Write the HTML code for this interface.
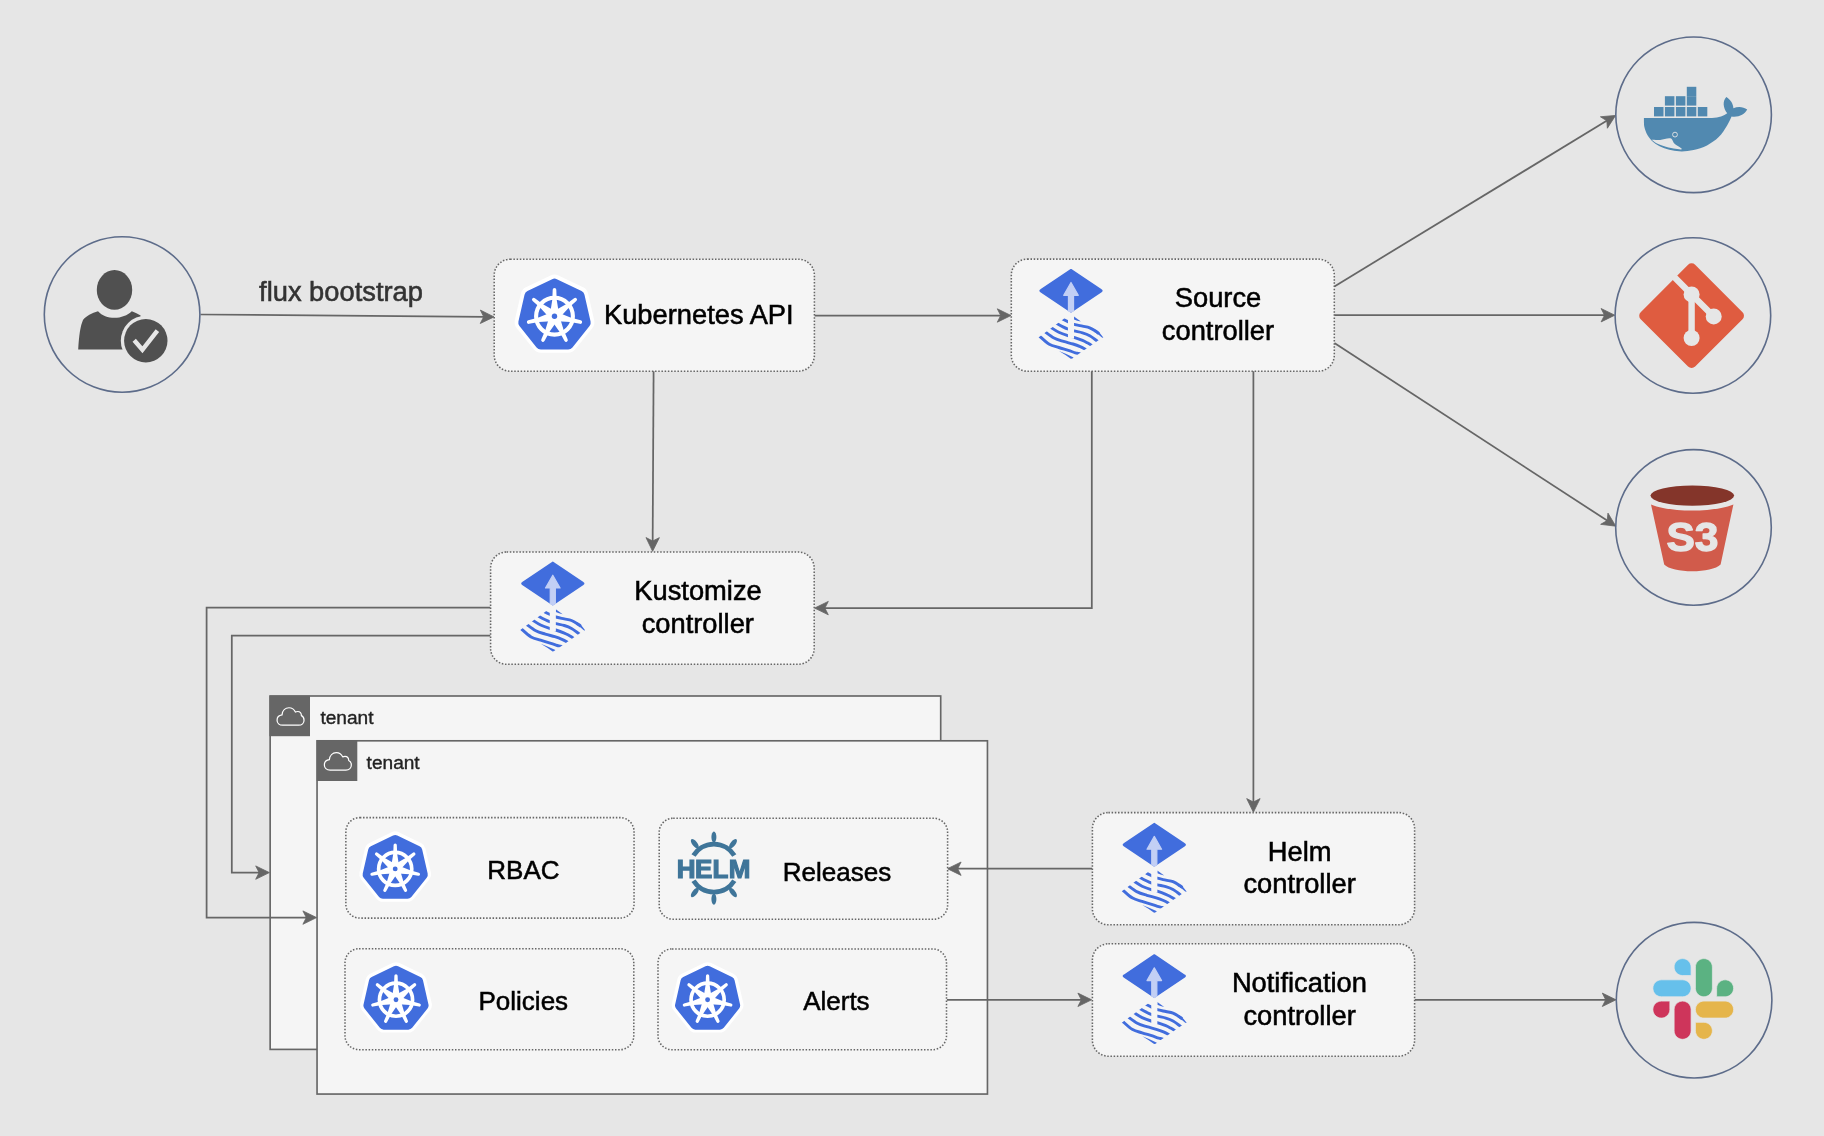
<!DOCTYPE html>
<html lang="en"><head><meta charset="utf-8"><title>Flux multi-tenancy architecture</title>
<style>html,body{margin:0;padding:0;background:#e6e6e6;}body{width:1824px;height:1136px;overflow:hidden;}svg{display:block;will-change:transform;}svg text{-webkit-font-smoothing:antialiased;}svg text{font-family:"Liberation Sans", sans-serif;}</style>
</head><body>
<svg width="1824" height="1136" viewBox="0 0 1824 1136">
<rect width="1824" height="1136" fill="#e6e6e6"/>
<defs>
<g id="k8s"><polygon points="0,-31.6 24.71,-19.7 30.81,7.03 13.71,28.47 -13.71,28.47 -30.81,7.03 -24.71,-19.7" fill="#fff" stroke="#fff" stroke-width="18.2" stroke-linejoin="round"/><polygon points="0,-31.6 24.71,-19.7 30.81,7.03 13.71,28.47 -13.71,28.47 -30.81,7.03 -24.71,-19.7" fill="#416ddd" stroke="#416ddd" stroke-width="10.8" stroke-linejoin="round" transform="translate(0,0.4)"/><g transform="translate(0,1)" fill="#fff" stroke="none"><circle r="18.4" fill="none" stroke="#fff" stroke-width="4.1"/><path transform="rotate(-90)" d="M4 -4.2 L16.5 -2.2 L26.5 -1.8 A1.8 1.8 0 0 1 26.5 1.8 L16.5 2.2 L4 4.2 Z"/><path transform="rotate(-38.57)" d="M4 -4.2 L16.5 -2.2 L26.5 -1.8 A1.8 1.8 0 0 1 26.5 1.8 L16.5 2.2 L4 4.2 Z"/><path transform="rotate(12.86)" d="M4 -4.2 L16.5 -2.2 L26.5 -1.8 A1.8 1.8 0 0 1 26.5 1.8 L16.5 2.2 L4 4.2 Z"/><path transform="rotate(64.29)" d="M4 -4.2 L16.5 -2.2 L26.5 -1.8 A1.8 1.8 0 0 1 26.5 1.8 L16.5 2.2 L4 4.2 Z"/><path transform="rotate(115.71)" d="M4 -4.2 L16.5 -2.2 L26.5 -1.8 A1.8 1.8 0 0 1 26.5 1.8 L16.5 2.2 L4 4.2 Z"/><path transform="rotate(167.14)" d="M4 -4.2 L16.5 -2.2 L26.5 -1.8 A1.8 1.8 0 0 1 26.5 1.8 L16.5 2.2 L4 4.2 Z"/><path transform="rotate(218.57)" d="M4 -4.2 L16.5 -2.2 L26.5 -1.8 A1.8 1.8 0 0 1 26.5 1.8 L16.5 2.2 L4 4.2 Z"/><circle r="7"/><circle r="2.7" fill="#416ddd"/></g></g>
<g id="flux"><path d="M0 1 L30.2 21.3 Q31.5 22.1 30.2 22.9 L0 43.2 L-30.2 22.9 Q-31.5 22.1 -30.2 21.3 Z" fill="#416ddd" stroke="#416ddd" stroke-width="1.6" stroke-linejoin="round"/><path d="M0 13.8 L7.3 26.6 L2.55 26.6 L2.55 42 L0 43.6 L-2.55 42 L-2.55 26.6 L-7.3 26.6 Z" fill="#c2cff5" stroke="#c2cff5" stroke-width="1.2" stroke-linejoin="round"/><clipPath id="fluxclip"><path d="M-36 71.2 L0 44.9 L42 44.9 L42 61.5 L0 90.5 L-3 92.6 L-36 92.6 Z"/></clipPath><g clip-path="url(#fluxclip)" fill="none" stroke="#416ddd" stroke-width="2.9" stroke-linecap="butt"><path d="M-35 63.5C-34.37 64.2 -33.42 65.7 -31.2 67.7C-28.98 69.7 -24.87 73.65 -21.7 75.5C-18.53 77.35 -15.37 77.77 -12.2 78.8C-9.03 79.83 -5.47 80.82 -2.7 81.7C0.07 82.58 2.67 83.58 4.4 84.1C6.13 84.62 6.43 84.38 7.7 84.8C8.97 85.22 11.28 86.3 12 86.6"/><path d="M-30 59.6C-29.3 60.2 -27.97 61.58 -25.8 63.2C-23.63 64.82 -20.05 67.72 -17 69.3C-13.95 70.88 -10.67 71.7 -7.5 72.7C-4.33 73.7 -0.78 74.43 2 75.3C4.78 76.17 7.22 77.07 9.2 77.9C11.18 78.73 12.43 79.45 13.9 80.3C15.37 81.15 17.32 82.55 18 83"/><path d="M-24 56C-23.27 56.52 -21.57 57.83 -19.6 59.1C-17.63 60.37 -14.93 62.28 -12.2 63.6C-9.47 64.92 -5.73 66.17 -3.2 67C-0.67 67.83 0.55 67.82 3 68.6C5.45 69.38 9.28 70.78 11.5 71.7C13.72 72.62 14.78 73.27 16.3 74.1C17.82 74.93 19.15 75.72 20.6 76.7C22.05 77.68 24.27 79.45 25 80"/><path d="M-18 52.4C-17.28 52.85 -15.45 54.1 -13.7 55.1C-11.95 56.1 -9.25 57.53 -7.5 58.4C-5.75 59.27 -4.95 59.67 -3.2 60.3C-1.45 60.93 0.55 61.57 3 62.2C5.45 62.83 8.88 63.3 11.5 64.1C14.12 64.9 16.17 65.57 18.7 67C21.23 68.43 24.65 71.1 26.7 72.7C28.75 74.3 30.28 75.95 31 76.6"/><path d="M-12 48.2C-11.25 48.63 -8.97 50.02 -7.5 50.8C-6.03 51.58 -4.95 52.1 -3.2 52.9C-1.45 53.7 0.55 54.83 3 55.6C5.45 56.37 8.88 56.92 11.5 57.5C14.12 58.08 16.32 58.15 18.7 59.1C21.08 60.05 24.25 62.22 25.8 63.2C27.35 64.18 27.63 64.7 28 65"/></g><path d="M24.6 60.9 Q29.6 64.4 32.3 68.8 Q31.6 69.4 30.6 68.6 Q28 65.6 23.2 63.4 Z" fill="#416ddd"/><path d="M3 47.9 L9.9 52.9 Q6 52 3 50.7 Z" fill="#416ddd"/><path d="M-12 82.3 Q-4 85.4 2.6 88.7 Q1.4 90.2 -0.2 90.1 Q-5 86.4 -12 82.3 Z" fill="#416ddd"/><rect x="-3.05" y="44.6" width="6.1" height="25.4" fill="#f5f5f5"/></g>
<g id="cloud"><rect x="-20.2" y="-20.2" width="40.6" height="40.6" fill="#666"/><path transform="translate(0.9,0.6) scale(0.94)" d="M-8.2 9.4 C-12 9.4 -14.3 7 -14.3 4 C-14.3 1 -12 -1.2 -9 -1.6 C-8.6 -6 -5.6 -9.2 -1.6 -9.2 C1.6 -9.2 4 -7.4 5.2 -4.6 C6 -5 6.8 -5.2 7.6 -5.2 C10 -5.2 11.6 -3.4 11.6 -0.8 C13.4 0 14.4 1.8 14.4 4 C14.4 7 12.2 9.4 8.6 9.4 Z" fill="none" stroke="#fff" stroke-width="1.3" stroke-linejoin="round"/></g>
</defs>
<g id="edges">
<path d="M200.5 314.5 L485 316.83" fill="none" stroke="#666666" stroke-width="1.75" stroke-linejoin="miter"/><path d="M494 316.9 L480.36 310.09 L483.7 316.82 L480.25 323.49 Z" fill="#666666" stroke="#666666" stroke-width="0.8" stroke-linejoin="miter"/>
<path d="M814.5 315.5 L1002 315.5" fill="none" stroke="#666666" stroke-width="1.75" stroke-linejoin="miter"/><path d="M1011 315.5 L997.3 308.8 L1000.7 315.5 L997.3 322.2 Z" fill="#666666" stroke="#666666" stroke-width="0.8" stroke-linejoin="miter"/>
<path d="M653.6 371 L652.65 542.3" fill="none" stroke="#666666" stroke-width="1.75" stroke-linejoin="miter"/><path d="M652.6 551.3 L659.38 537.64 L652.66 541 L645.98 537.56 Z" fill="#666666" stroke="#666666" stroke-width="0.8" stroke-linejoin="miter"/>
<path d="M1091.8 371 L1091.8 608.1 L823.6 608.1" fill="none" stroke="#666666" stroke-width="1.75" stroke-linejoin="miter"/><path d="M814.6 608.1 L828.3 614.8 L824.9 608.1 L828.3 601.4 Z" fill="#666666" stroke="#666666" stroke-width="0.8" stroke-linejoin="miter"/>
<path d="M1253.4 371 L1253.4 803.3" fill="none" stroke="#666666" stroke-width="1.75" stroke-linejoin="miter"/><path d="M1253.4 812.3 L1260.1 798.6 L1253.4 802 L1246.7 798.6 Z" fill="#666666" stroke="#666666" stroke-width="0.8" stroke-linejoin="miter"/>
<path d="M1334.4 286.4 L1607.91 120.08" fill="none" stroke="#666666" stroke-width="1.75" stroke-linejoin="miter"/><path d="M1615.6 115.4 L1600.41 116.79 L1606.8 120.75 L1607.38 128.24 Z" fill="#666666" stroke="#666666" stroke-width="0.8" stroke-linejoin="miter"/>
<path d="M1334.4 315.2 L1605.8 315.2" fill="none" stroke="#666666" stroke-width="1.75" stroke-linejoin="miter"/><path d="M1614.8 315.2 L1601.1 308.5 L1604.5 315.2 L1601.1 321.9 Z" fill="#666666" stroke="#666666" stroke-width="0.8" stroke-linejoin="miter"/>
<path d="M1334.4 343 L1608.26 521.29" fill="none" stroke="#666666" stroke-width="1.75" stroke-linejoin="miter"/><path d="M1615.8 526.2 L1607.97 513.11 L1607.17 520.58 L1600.66 524.34 Z" fill="#666666" stroke="#666666" stroke-width="0.8" stroke-linejoin="miter"/>
<path d="M490.4 635.5 L231.8 635.5 L231.8 872.6 L260.4 872.6" fill="none" stroke="#666666" stroke-width="1.75" stroke-linejoin="miter"/><path d="M269.4 872.6 L255.7 865.9 L259.1 872.6 L255.7 879.3 Z" fill="#666666" stroke="#666666" stroke-width="0.8" stroke-linejoin="miter"/>
</g>
<g id="tenants">
<rect x="270.15" y="696" width="670.55" height="353.4" fill="#f5f5f5" stroke="#666666" stroke-width="1.65"/>
<use href="#cloud" x="289.6" y="715.8"/>
<text x="320.4" y="724.2" font-size="19.1" text-anchor="start" fill="#222" font-weight="normal" stroke="#222" stroke-width="0.38">tenant</text>
<rect x="317.05" y="740.8" width="670.4" height="353.25" fill="#f5f5f5" stroke="#666666" stroke-width="1.65"/>
<use href="#cloud" x="336.9" y="760.6"/>
<text x="366.6" y="769.1" font-size="19.1" text-anchor="start" fill="#222" font-weight="normal" stroke="#222" stroke-width="0.38">tenant</text>
</g>
<path d="M490.4 607.7 L206.6 607.7 L206.6 917.6 L307.6 917.6" fill="none" stroke="#666666" stroke-width="1.75" stroke-linejoin="miter"/><path d="M316.6 917.6 L302.9 910.9 L306.3 917.6 L302.9 924.3 Z" fill="#666666" stroke="#666666" stroke-width="0.8" stroke-linejoin="miter"/>
<path d="M1092.2 868.7 L956.4 868.7" fill="none" stroke="#666666" stroke-width="1.75" stroke-linejoin="miter"/><path d="M947.4 868.7 L961.1 875.4 L957.7 868.7 L961.1 862 Z" fill="#666666" stroke="#666666" stroke-width="0.8" stroke-linejoin="miter"/>
<path d="M946.8 999.8 L1082.6 999.8" fill="none" stroke="#666666" stroke-width="1.75" stroke-linejoin="miter"/><path d="M1091.6 999.8 L1077.9 993.1 L1081.3 999.8 L1077.9 1006.5 Z" fill="#666666" stroke="#666666" stroke-width="0.8" stroke-linejoin="miter"/>
<path d="M1414.8 999.8 L1607 999.8" fill="none" stroke="#666666" stroke-width="1.75" stroke-linejoin="miter"/><path d="M1616 999.8 L1602.3 993.1 L1605.7 999.8 L1602.3 1006.5 Z" fill="#666666" stroke="#666666" stroke-width="0.8" stroke-linejoin="miter"/>
<g id="boxes">
<rect x="494.2" y="259.2" width="320.2" height="112" rx="16" ry="16" fill="#f5f5f5" stroke="#666666" stroke-width="1.55" stroke-dasharray="1.5 1.7"/>
<rect x="1011.3" y="259.1" width="323" height="112.1" rx="16" ry="16" fill="#f5f5f5" stroke="#666666" stroke-width="1.55" stroke-dasharray="1.5 1.7"/>
<rect x="490.6" y="552" width="323.6" height="112.3" rx="16" ry="16" fill="#f5f5f5" stroke="#666666" stroke-width="1.55" stroke-dasharray="1.5 1.7"/>
<rect x="1092.4" y="812.6" width="322.2" height="112.2" rx="16" ry="16" fill="#f5f5f5" stroke="#666666" stroke-width="1.55" stroke-dasharray="1.5 1.7"/>
<rect x="1092.4" y="943.8" width="322.2" height="112.4" rx="16" ry="16" fill="#f5f5f5" stroke="#666666" stroke-width="1.55" stroke-dasharray="1.5 1.7"/>
<rect x="345.85" y="817.6" width="288.2" height="100.5" rx="14" ry="14" fill="#f5f5f5" stroke="#666666" stroke-width="1.55" stroke-dasharray="1.5 1.7"/>
<rect x="659.2" y="818.2" width="288.4" height="101" rx="14" ry="14" fill="#f5f5f5" stroke="#666666" stroke-width="1.55" stroke-dasharray="1.5 1.7"/>
<rect x="345" y="948.7" width="288.8" height="101" rx="14" ry="14" fill="#f5f5f5" stroke="#666666" stroke-width="1.55" stroke-dasharray="1.5 1.7"/>
<rect x="658" y="948.9" width="288.5" height="100.8" rx="14" ry="14" fill="#f5f5f5" stroke="#666666" stroke-width="1.55" stroke-dasharray="1.5 1.7"/>
</g>
<use href="#k8s" x="554.5" y="315.2"/>
<use href="#k8s" transform="translate(395.2,868) scale(0.9)"/>
<use href="#k8s" transform="translate(396,998.8) scale(0.9)"/>
<use href="#k8s" transform="translate(707.6,998.8) scale(0.9)"/>
<use href="#flux" x="1071" y="268.7"/>
<use href="#flux" x="552.8" y="561.4"/>
<use href="#flux" x="1154.3" y="822.6"/>
<use href="#flux" x="1154.3" y="954"/>
<g id="labels">
<text x="341" y="300.8" font-size="27.3" text-anchor="middle" fill="#333" font-weight="normal" stroke="#333" stroke-width="0.55">flux bootstrap</text>
<text x="698.8" y="323.9" font-size="27.3" text-anchor="middle" fill="#000" font-weight="normal" stroke="#000" stroke-width="0.55">Kubernetes API</text>
<text x="1218" y="306.8" font-size="27.3" text-anchor="middle" fill="#000" font-weight="normal" stroke="#000" stroke-width="0.55">Source</text>
<text x="1218" y="339.9" font-size="27.3" text-anchor="middle" fill="#000" font-weight="normal" stroke="#000" stroke-width="0.55">controller</text>
<text x="698" y="599.6" font-size="27.3" text-anchor="middle" fill="#000" font-weight="normal" stroke="#000" stroke-width="0.55">Kustomize</text>
<text x="697.8" y="632.5" font-size="27.3" text-anchor="middle" fill="#000" font-weight="normal" stroke="#000" stroke-width="0.55">controller</text>
<text x="1299.6" y="860.8" font-size="27.3" text-anchor="middle" fill="#000" font-weight="normal" stroke="#000" stroke-width="0.55">Helm</text>
<text x="1299.6" y="892.8" font-size="27.3" text-anchor="middle" fill="#000" font-weight="normal" stroke="#000" stroke-width="0.55">controller</text>
<text x="1299.4" y="991.7" font-size="27.3" text-anchor="middle" fill="#000" font-weight="normal" stroke="#000" stroke-width="0.55">Notification</text>
<text x="1299.6" y="1024.8" font-size="27.3" text-anchor="middle" fill="#000" font-weight="normal" stroke="#000" stroke-width="0.55">controller</text>
<text x="523.4" y="878.8" font-size="26" text-anchor="middle" fill="#000" font-weight="normal" stroke="#000" stroke-width="0.52">RBAC</text>
<text x="837" y="880.7" font-size="26" text-anchor="middle" fill="#000" font-weight="normal" stroke="#000" stroke-width="0.52">Releases</text>
<text x="523.3" y="1010" font-size="26" text-anchor="middle" fill="#000" font-weight="normal" stroke="#000" stroke-width="0.52">Policies</text>
<text x="836.4" y="1010" font-size="26" text-anchor="middle" fill="#000" font-weight="normal" stroke="#000" stroke-width="0.52">Alerts</text>
</g>
<g id="helm" transform="translate(713.9,868.1)" fill="none" stroke="#3f7599">
<path d="M-20.4 -12.7 A24 24 0 0 1 20.4 -12.7" stroke-width="4.8"/>
<path d="M-20.4 12.7 A24 24 0 0 0 20.4 12.7" stroke-width="4.8"/>
<ellipse transform="rotate(0)" cx="0" cy="-31" rx="2.5" ry="5.6" fill="#3f7599" stroke="none"/>
<ellipse transform="rotate(38)" cx="0" cy="-31" rx="2.5" ry="5.6" fill="#3f7599" stroke="none"/>
<ellipse transform="rotate(-38)" cx="0" cy="-31" rx="2.5" ry="5.6" fill="#3f7599" stroke="none"/>
<ellipse transform="rotate(180)" cx="0" cy="-31" rx="2.5" ry="5.6" fill="#3f7599" stroke="none"/>
<ellipse transform="rotate(142)" cx="0" cy="-31" rx="2.5" ry="5.6" fill="#3f7599" stroke="none"/>
<ellipse transform="rotate(218)" cx="0" cy="-31" rx="2.5" ry="5.6" fill="#3f7599" stroke="none"/>
</g>
<text x="676.8 694.9 712.4 728.7" y="878" font-size="26" font-weight="bold" fill="#3f7599" stroke="#3f7599" stroke-width="1.2" stroke-linejoin="miter">HELM</text>
<g id="circles" fill="none" stroke="#5d6c8a" stroke-width="1.6">
<circle cx="122.1" cy="314.5" r="77.8"/>
<circle cx="1693.6" cy="114.8" r="77.8"/>
<circle cx="1692.9" cy="315.5" r="77.8"/>
<circle cx="1693.5" cy="527.4" r="77.8"/>
<circle cx="1694.1" cy="1000.2" r="77.8"/>
</g>
<g id="user" fill="#505050">
<ellipse cx="114.5" cy="289.9" rx="17.7" ry="19.8"/>
<path d="M78.2 349.6 C79 335 80.4 326 83 320 C86 316 92 313 98 311.2 C102 315.6 108 317.8 114.5 317.8 C121 317.8 127.6 315.4 131.8 311.2 C135 312.4 138 313.8 140.6 315.4 L140.6 349.6 Z"/>
<circle cx="145.8" cy="340.7" r="25" fill="#e6e6e6"/>
<circle cx="145.8" cy="340.7" r="21.7"/>
<path d="M134.2 340.2 L142.4 349.8 L157.4 330.6" fill="none" stroke="#e6e6e6" stroke-width="4.4"/>
</g>
<g id="docker" fill="#5189b0">
<rect x="1654" y="107" width="9.5" height="9.4"/>
<rect x="1664.9" y="107" width="9.5" height="9.4"/>
<rect x="1675.9" y="107" width="9.5" height="9.4"/>
<rect x="1686.8" y="107" width="9.5" height="9.4"/>
<rect x="1697.8" y="107" width="9.5" height="9.4"/>
<rect x="1664.9" y="96.2" width="9.5" height="9.4"/>
<rect x="1675.9" y="96.2" width="9.5" height="9.4"/>
<rect x="1686.8" y="96.2" width="9.5" height="9.4"/>
<rect x="1686.8" y="86.8" width="9.5" height="9.4"/>
<path d="M1643.9 117.9 L1712 117.9 C1719 117.6 1724 115.6 1727.2 113.2 C1723 107.6 1722.4 101 1726.3 96.9 C1730.4 99.4 1733.2 103.6 1733.4 108.2 C1738 106.2 1743.4 106.6 1747.2 109.6 C1744.6 114.6 1738.6 117.6 1731.6 116.6 C1730.85 118.07 1729.25 121.98 1727.1 125.4C1724.95 128.82 1722.05 133.77 1718.7 137.1C1715.35 140.43 1711.18 143.23 1707 145.4C1702.82 147.57 1697.78 149.1 1693.6 150.1C1689.42 151.1 1685.52 151.38 1681.9 151.4C1678.28 151.42 1675.23 150.9 1671.9 150.2C1668.57 149.5 1664.97 148.53 1661.9 147.2C1658.83 145.87 1655.87 144.17 1653.5 142.2C1651.13 140.23 1649.22 137.93 1647.7 135.4C1646.18 132.87 1645.03 129.92 1644.4 127C1643.77 124.08 1643.98 119.42 1643.9 117.9 Z"/>
<path d="M1651.6 139.8C1653.03 139.82 1657.08 140.15 1660.2 139.9C1663.32 139.65 1667.9 137.67 1670.3 138.3C1672.7 138.93 1672.65 141.9 1674.6 143.7C1676.55 145.5 1682.17 148.3 1682 149.1C1681.83 149.9 1676.68 149.03 1673.6 148.5C1670.52 147.97 1666.43 146.83 1663.5 145.9C1660.57 144.97 1657.98 143.92 1656 142.9C1654.02 141.88 1652.33 140.32 1651.6 139.8 Z" fill="#e6e6e6"/>
<circle cx="1675" cy="134.6" r="2.4" fill="none" stroke="#e6e6e6" stroke-width="0.9"/>
</g>
<g id="git">
<rect x="-37.5" y="-37.5" width="75" height="75" rx="4" ry="4" transform="translate(1691.6,315.7) rotate(45)" fill="#df5c40" stroke="#df5c40" stroke-width="2"/>
<g stroke="#e6e6e6" stroke-width="6.4" fill="none" stroke-linecap="butt">
<path d="M1671 273.8 L1691.6 294.4 L1713.7 316.4"/>
<path d="M1691.6 294.4 L1691.6 338"/>
</g>
<circle cx="1691.6" cy="294.4" r="8" fill="#e6e6e6"/>
<circle cx="1713.7" cy="316.4" r="8" fill="#e6e6e6"/>
<circle cx="1691.6" cy="338" r="8" fill="#e6e6e6"/>
</g>
<g id="s3">
<path d="M1651 504.4 C1670 512.6 1714 512.6 1733.4 504.4 L1720.6 564.4 C1712 573.4 1672.4 573.4 1664.2 564.4 Z" fill="#d15b4b"/>
<ellipse cx="1692.3" cy="495.6" rx="41.8" ry="10.2" fill="#84352a"/>
<text x="1692.4" y="551.2" font-size="40" text-anchor="middle" fill="#e6e6e6" font-weight="bold" textLength="52" lengthAdjust="spacingAndGlyphs" stroke="#e6e6e6" stroke-width="1.3" stroke-linejoin="round">S3</text>
</g>
<g id="slack" transform="translate(1652.9,958.6) scale(0.6572)" stroke="#e6e6e6" stroke-width="1.1">
<path d="M25.8 77.6c0 7.1-5.800 12.9-12.9 12.9S0 84.700 0 77.600s5.800-12.900 12.900-12.900h12.900v12.900zm6.500 0c0-7.100 5.800-12.900 12.900-12.900s12.900 5.800 12.900 12.900v32.300c0 7.100-5.800 12.900-12.900 12.900s-12.900-5.800-12.900-12.900V77.600z" fill="#ce355b"/>
<path d="M45.2 25.8c-7.100 0-12.900-5.800-12.900-12.900S38.100 0 45.200 0s12.900 5.800 12.900 12.900v12.900H45.200zm0 6.500c7.100 0 12.900 5.800 12.900 12.900s-5.800 12.900-12.900 12.900H12.900C5.800 58.100 0 52.300 0 45.200s5.800-12.900 12.900-12.900h32.300z" fill="#66c0eb"/>
<path d="M97 45.200c0-7.100 5.800-12.900 12.900-12.900s12.900 5.800 12.900 12.900-5.800 12.900-12.900 12.900H97V45.200zm-6.500 0c0 7.100-5.800 12.900-12.900 12.900s-12.900-5.800-12.900-12.900V12.900C64.700 5.800 70.500 0 77.600 0s12.900 5.800 12.900 12.900v32.300z" fill="#5bb282"/>
<path d="M77.600 97c7.100 0 12.900 5.800 12.900 12.900s-5.800 12.900-12.900 12.900-12.900-5.800-12.900-12.900V97h12.900zm0-6.500c-7.100 0-12.900-5.800-12.900-12.900s5.800-12.900 12.900-12.900h32.300c7.100 0 12.900 5.800 12.900 12.900s-5.800 12.900-12.900 12.900H77.600z" fill="#e5b54b"/>
</g>
</svg>
</body></html>
